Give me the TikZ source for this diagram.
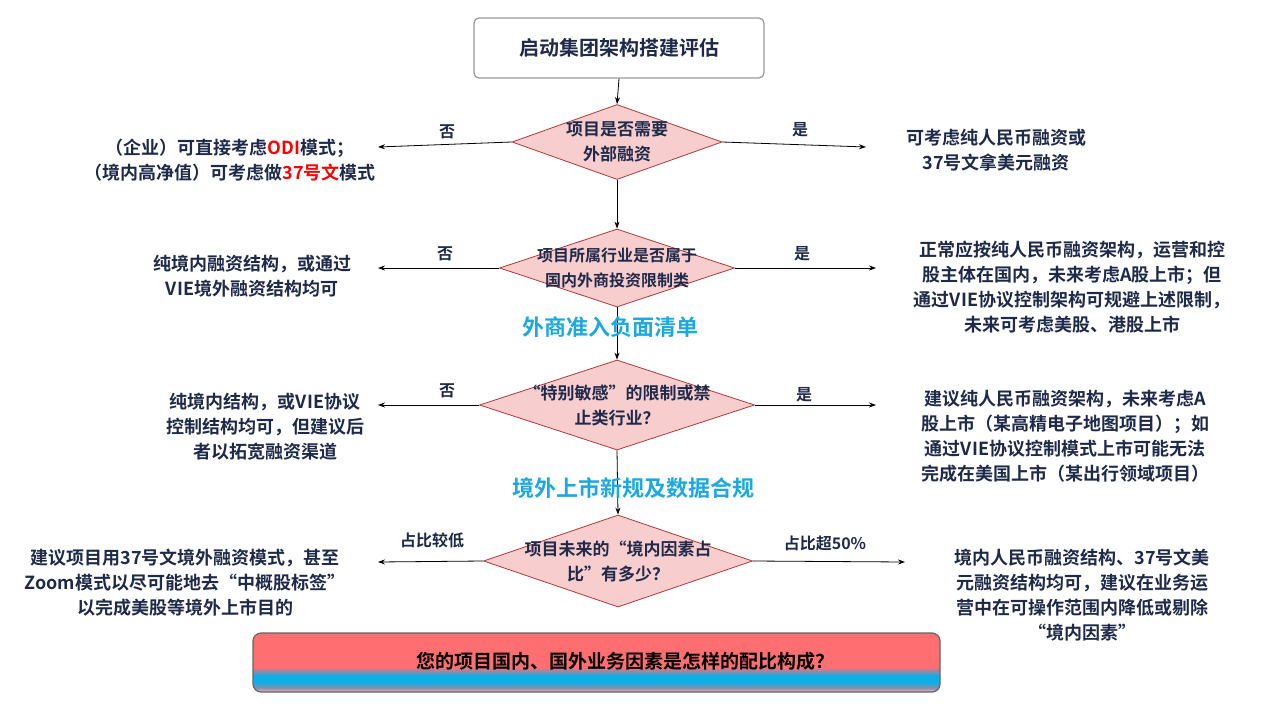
\documentclass[tikz,border=0pt]{standalone}
\usepackage{fontspec}
\setmainfont{Noto Sans CJK SC}[BoldFont={Noto Sans CJK SC Bold}]
\usetikzlibrary{shapes.geometric,arrows.meta}
\definecolor{navy}{HTML}{1F2A4A}
\definecolor{dfill}{HTML}{F8CDCD}
\definecolor{dline}{HTML}{B03A3A}
\definecolor{cyanb}{HTML}{1DA8E0}
\definecolor{barpink}{HTML}{FF6E70}
\definecolor{barblue}{HTML}{0EAEE8}
\pgfdeclareverticalshading{barshade}{100bp}{color(0bp)=(barpink!55!white); color(25bp)=(barpink!55!white); color(28.5bp)=(barpink!50!barblue); color(33.5bp)=(barblue); color(39bp)=(barblue); color(46bp)=(barpink); color(100bp)=(barpink)}
\begin{document}
\begin{tikzpicture}[x=1pt,y=-1pt,
  every node/.style={font=\bfseries\fontsize{18}{25}\selectfont, text=navy},
  dia/.style={diamond, draw=dline, fill=dfill, line width=0.8pt, inner sep=0pt},
  txt/.style={align=center},
  arr/.style={-{Stealth[length=7pt,width=5pt]}, line width=0.8pt, black},
  lab/.style={font=\bfseries\fontsize{16}{20}\selectfont},
  blue/.style={text=cyanb, font=\bfseries\fontsize{22}{25}\selectfont}]
\useasboundingbox (0,0) rectangle (1265,717);
\node[draw=gray!80, line width=1.2pt, rounded corners=5pt, minimum width=290pt, minimum height=60pt, font=\bfseries\fontsize{20}{25}\selectfont] (top) at (619,48) {启动集团架构搭建评估};
\node[dia, minimum width=210pt, minimum height=75pt] (d1) at (617,142) {};
\node[dia, minimum width=235pt, minimum height=78pt] (d2) at (617,268) {};
\node[dia, minimum width=275pt, minimum height=90pt] (d3) at (617,405) {};
\node[dia, minimum width=269pt, minimum height=92pt] (d4) at (618,561) {};
\node[txt, font=\bfseries\fontsize{17}{25}\selectfont] (d1t) at (d1) {项目是否需要\\外部融资};
\node[txt, font=\bfseries\fontsize{16}{25}\selectfont] (d2t) at (d2) {项目所属行业是否属于\\国内外商投资限制类};
\node[txt, font=\bfseries\fontsize{17}{25}\selectfont] (d3t) at (d3) {“特别敏感”的限制或禁\\止类行业？};
\node[txt, font=\bfseries\fontsize{17}{25}\selectfont] (d4t) at (d4) {项目未来的“境内因素占\\比”有多少？};

\draw[arr] (top.south) -- (d1.north);
\draw[arr] (d1.south) -- (d2.north);
\draw[arr] (d2.south) -- (d3.north);
\draw[arr] (d3.south) -- (d4.north);

\coordinate (l1) at (378,147); \coordinate (r1) at (866,147);
\coordinate (l2) at (378,268); \coordinate (r2) at (876,268);
\coordinate (l3) at (378,405); \coordinate (r3) at (876,405);
\coordinate (l4) at (378,562); \coordinate (r4) at (905,562);
\draw[arr] (d1.west) -- (l1); \draw[arr] (d1.east) -- (r1);
\draw[arr] (d2.west) -- (l2); \draw[arr] (d2.east) -- (r2);
\draw[arr] (d3.west) -- (l3); \draw[arr] (d3.east) -- (r3);
\draw[arr] (d4.west) -- (l4); \draw[arr] (d4.east) -- (r4);

\node[lab] (n1) at (447,132) {否}; \node[lab] (y1) at (800,130) {是};
\node[lab] (n2) at (445,254) {否}; \node[lab] (y2) at (802,254) {是};
\node[lab] (n3) at (447,391) {否}; \node[lab] (y3) at (804,395) {是};
\node[lab] (n4) at (432,540) {占比较低}; \node[lab] (y4) at (825,543) {占比超50\%};

\node[txt] (t1l) at (230,160) {（企业）可直接考虑\textcolor{red}{ODI}模式；\\（境内高净值）可考虑做\textcolor{red}{37号文}模式};
\node[txt] (t1r) at (996,150) {可考虑纯人民币融资或\\37号文拿美元融资};
\node[txt] (t2l) at (252,276) {纯境内融资结构，或通过\\VIE境外融资结构均可};
\node[txt] (t2r) at (1072,287) {正常应按纯人民币融资架构，运营和控\\股主体在国内，未来考虑A股上市；但\\通过VIE协议控制架构可规避上述限制，\\未来可考虑美股、港股上市};
\node[txt] (t3l) at (265,427) {纯境内结构，或VIE协议\\控制结构均可，但建议后\\者以拓宽融资渠道};
\node[txt] (t3r) at (1065,436) {建议纯人民币融资架构，未来考虑A\\股上市（某高精电子地图项目）；如\\通过VIE协议控制模式上市可能无法\\完成在美国上市（某出行领域项目）};
\node[txt] (t4l) at (185,583) {建议项目用37号文境外融资模式，甚至\\Zoom模式以尽可能地去“中概股标签”\\以完成美股等境外上市目的};
\node[txt] (t4r) at (1082,595) {境内人民币融资结构、37号文美\\元融资结构均可，建议在业务运\\营中在可操作范围内降低或剔除\\“境内因素”};

\node[blue] (b1) at (610,327) {外商准入负面清单};
\node[blue] (b2) at (633,488) {境外上市新规及数据合规};

\shade[shading=barshade, rounded corners=8pt] (253,633) rectangle (940,692);
\draw[gray!70!navy, line width=1.2pt, rounded corners=8pt] (253,633) rectangle (940,692);
\node[text=black, font=\bfseries\fontsize{19}{25}\selectfont] (bar) at (625,661) {您的项目国内、国外业务因素是怎样的配比构成？};
\end{tikzpicture}
\end{document}
